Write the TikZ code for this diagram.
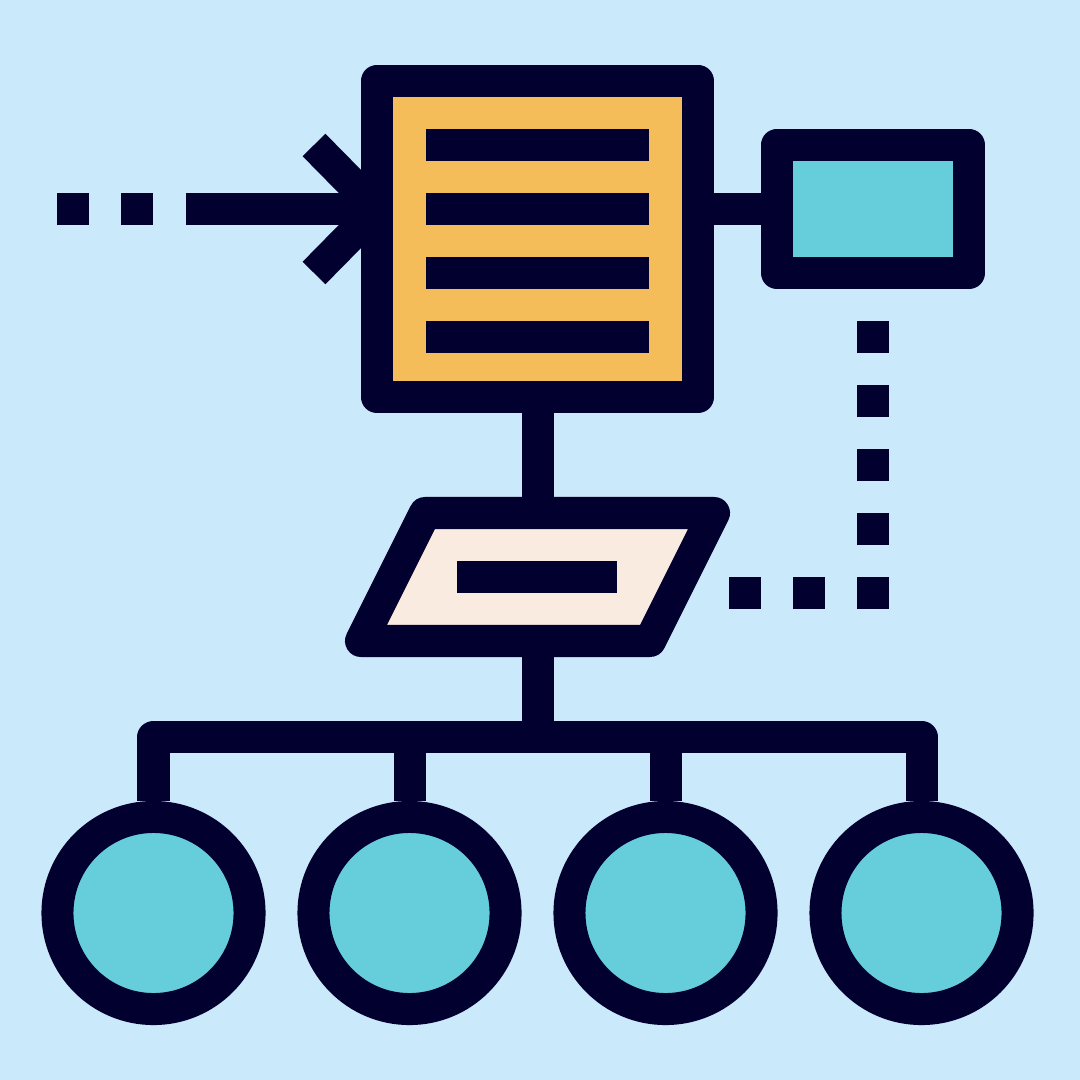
\documentclass[tikz,border=0pt]{standalone}
\usepackage{tikz}
\usetikzlibrary{positioning}
\definecolor{sky}{HTML}{CAE9FA}
\definecolor{ink}{HTML}{02002F}
\definecolor{sheet}{HTML}{F5BD5A}
\definecolor{teal}{HTML}{66CEDB}
\definecolor{cream}{HTML}{FAEBE0}
\tikzset{wire/.style={draw=ink, line width=0.32cm, line join=round}}

\begin{document}
\begin{tikzpicture}[x=0.01cm, y=-0.01cm,
		box/.style={wire, rectangle, inner sep=0pt},
		leaf/.style={wire, circle, fill=teal, minimum size=1.92cm, inner sep=0pt},
		dot/.style={fill=ink, rectangle, minimum size=0.32cm, inner sep=0pt, outer sep=0pt}]
		\fill[sky] (0,0) rectangle (1080,1080);
		\useasboundingbox (0,0) rectangle (1080,1080);
		% named points
		\coordinate (lend) at (186,209);
		\coordinate (chevtop) at (314,145);
		\coordinate (chevtip) at (377,209);
		\coordinate (chevbot) at (314,273);
		\coordinate (ptop) at (537.5,513);
		\coordinate (pbot) at (537.5,641);
		\coordinate (bar) at (537.5,737);
		% connectors first, shapes go over them
		\draw[wire] (lend) -- (chevtip);
		\draw[wire, line join=miter] (chevtop) -- (chevtip) -- (chevbot);
		\node (doc) [box, fill=sheet, minimum width=3.21cm, minimum height=3.16cm] at (537.5,239) {};
		\node (card) [box, fill=teal, minimum width=1.92cm, minimum height=1.28cm] at (873,209) {};
		\draw[wire] (doc.east |- card.west) -- (card.west);
		\draw[wire] (doc.south) -- (ptop);
		\draw[wire] (pbot) -- (bar);
		\foreach \y in {145,209,273,337}
			\draw[wire] (426,\y) -- (649,\y);
		\node (c1) [leaf] at (153.5,913) {};
		\node (c2) [leaf] at (409.5,913) {};
		\node (c3) [leaf] at (665.5,913) {};
		\node (c4) [leaf] at (921.5,913) {};
		\draw[wire] (c1.north) |- (bar) -| (c4.north);
		\draw[wire] (c2.north) -- (c2.north |- bar);
		\draw[wire] (c3.north) -- (c3.north |- bar);
		% parallelogram
		\draw[wire, fill=cream] (425,513) -- (714,513) -- (650,641) -- (361,641) -- cycle;
		\draw[wire] (457,577) -- (617,577);
		% dotted trails
		\foreach \x [count=\i] in {73,137}
			\node (dl\i) [dot] at (\x,209) {};
		\foreach \y [count=\i] in {337,401,465,529,593}
			\node (dv\i) [dot] at (873,\y) {};
		\foreach \x [count=\i] in {745,809}
			\node (dh\i) [dot] at (\x,593) {};
\end{tikzpicture}
\end{document}
